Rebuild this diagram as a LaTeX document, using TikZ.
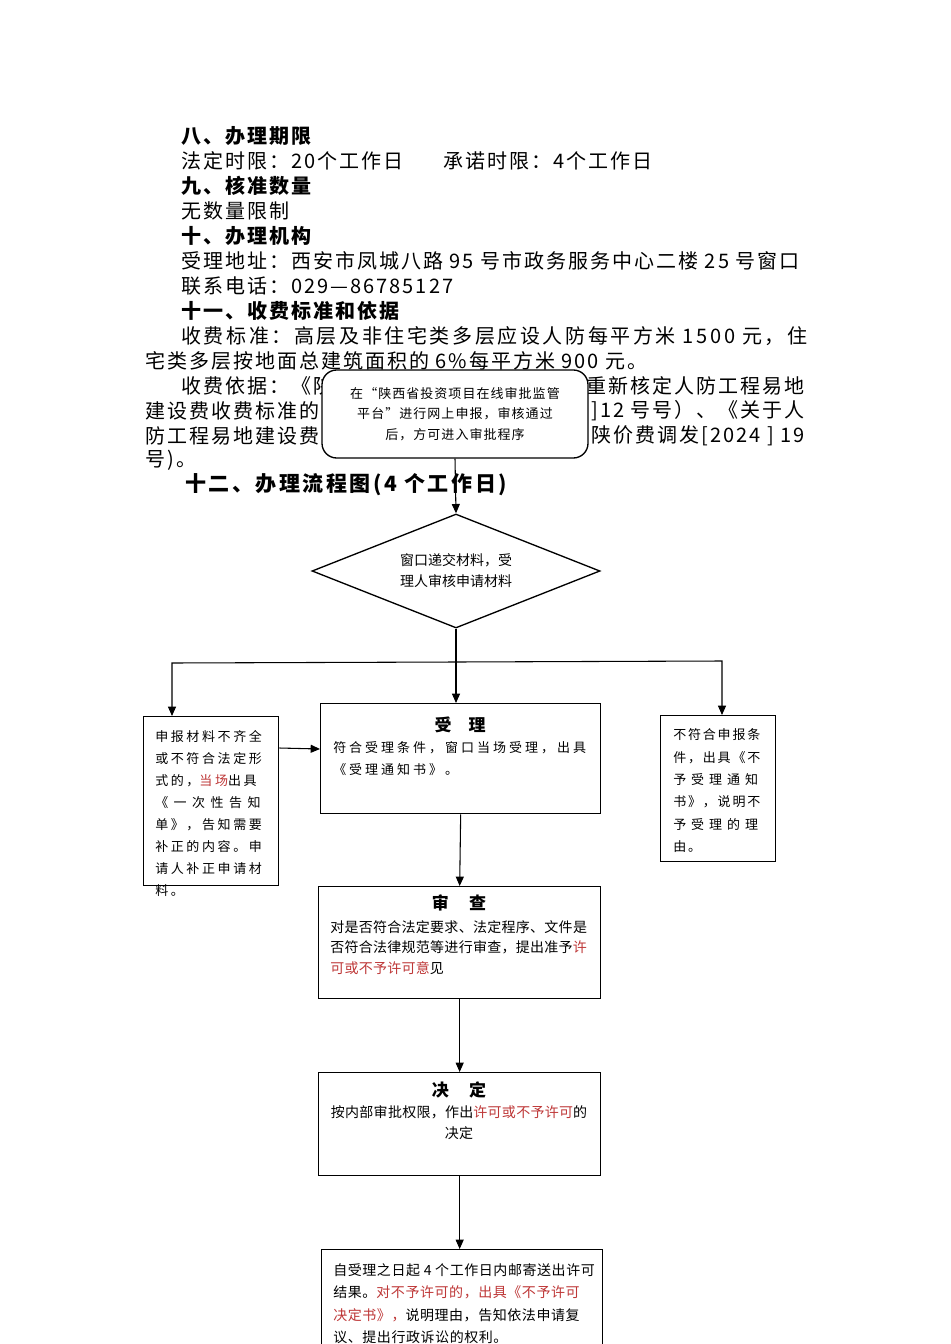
\documentclass[tikz,border=0pt]{standalone}
\usepackage{fontspec}
\setmainfont{Noto Sans CJK SC}
\usepackage{xcolor}
\usetikzlibrary{arrows.meta,shapes.geometric}
\definecolor{notered}{RGB}{190,55,55}

\begin{document}
\begin{tikzpicture}[x=0.75pt, y=-0.75pt,
  pagetext/.style={anchor=west, inner sep=0pt,
                   font=\fontsize{15}{18}\selectfont\addfontfeature{LetterSpace=10}},
  pagehead/.style={pagetext, font=\fontsize{15}{18}\selectfont\bfseries\addfontfeature{LetterSpace=10}},
  flowbox/.style={draw, line width=1pt, inner sep=0pt, anchor=north west},
  boxtitle/.style={inner sep=0pt, font=\fontsize{12.75}{15}\selectfont\bfseries},
  boxtext/.style={inner sep=0pt, anchor=north west, align=left},
  flowarrow/.style={-{Triangle[length=7pt,width=6pt]}, line width=0.8pt}
]
\useasboundingbox (0,0) rectangle (950,1344);
\clip (0,0) rectangle (950,1344);
\fill[white] (0,0) rectangle (950,1344);

% page text
\node[pagehead] (h8) at (181,136) {八、办理期限};
\node[pagetext] (limit) at (181,161) {法定时限：20个工作日};
\node[pagetext] (promise) at (443,161) {承诺时限：4个工作日};
\node[pagehead] (h9) at (181,186) {九、核准数量};
\node[pagetext] (count) at (181,211) {无数量限制};
\node[pagehead] (h10) at (181,236) {十、办理机构};
\node[pagetext] (addr) at (181,261) {受理地址：西安市凤城八路 95 号市政务服务中心二楼 25 号窗口};
\node[pagetext] (phone) at (181,286) {联系电话：029—86785127};
\node[pagehead] (h11) at (181,311) {十一、收费标准和依据};
\node[pagetext, font=\fontsize{15}{18}\selectfont\addfontfeature{LetterSpace=13}] (fee1) at (181,336) {收费标准：高层及非住宅类多层应设人防每平方米 1500 元，住};
\node[pagetext] (fee2) at (145,361) {宅类多层按地面总建筑面积的 6\%每平方米 900 元。};
\node[pagetext] (basis1) at (181,386) {收费依据：《陕};
\node[pagetext, anchor=east] (basis1r) at (805,386) {重新核定人防工程易地};
\node[pagetext] (basis2) at (145,411) {建设费收费标准的};
\node[pagetext, anchor=east] (basis2r) at (805,411) {]12 号号）、《关于人};
\node[pagetext] (basis3) at (145,436) {防工程易地建设费};
\node[pagetext, anchor=east] (basis3r) at (805,436) {陕价费调发[2024 ] 19};
\node[pagetext] (basis4) at (145,460) {号)。};
\node[pagehead, font=\fontsize{15.75}{18}\selectfont\bfseries\addfontfeature{LetterSpace=12}] (h12) at (185,485) {十二、办理流程图(4 个工作日)};

% online declaration
\node[draw, line width=1pt, rounded corners=11pt, fill=white, align=center, inner sep=0pt,
      minimum width=199.5pt, minimum height=66pt,
      font=\fontsize{9.75}{15.4}\selectfont\addfontfeature{LetterSpace=8}] (online) at (455,414)
  {在“陕西省投资项目在线审批监管\\平台”进行网上申报，审核通过\\后，方可进入审批程序};

% window check
\node[draw, diamond, shape aspect=2.5, line width=1pt, inner sep=0pt,
      minimum width=216pt, minimum height=85.5pt,
      align=center, font=\fontsize{10.5}{15.75}\selectfont] (window) at (456,571)
  {窗口递交材料，受\\理人审核申请材料};

% boxes
\node[flowbox, minimum width=101.25pt, minimum height=126.75pt] (incomplete) at (143,716) {};
\node[flowbox, minimum width=210pt, minimum height=82.5pt] (accept) at (320,703) {};
\node[flowbox, minimum width=86.25pt, minimum height=109.5pt] (refuse) at (660,715) {};
\node[flowbox, minimum width=211.5pt, minimum height=84pt] (review) at (318,886) {};
\node[flowbox, minimum width=211.5pt, minimum height=77.25pt] (decide) at (318,1072) {};
\node[flowbox, minimum width=210.75pt, minimum height=90pt] (result) at (321,1249) {};

% box texts
\node[boxtext, font=\fontsize{9.75}{16.5}\selectfont\addfontfeature{LetterSpace=20}] (incompletetext) at (155,730)
  {申报材料不齐全\\或不符合法定形\\式的，\textcolor{notered}{当场}出具\\{\addfontfeature{LetterSpace=42}《一次性告知}\\单》，告知需要\\补正的内容。申\\请人补正申请材\\料。};
\node[boxtitle] (accepttitle) at (460,725) {受\hspace{1em}理};
\node[boxtext, font=\fontsize{9.75}{16.5}\selectfont\addfontfeature{LetterSpace=23}] (accepttext) at (333,741.5)
  {符合受理条件，窗口当场受理，出具\\《受理通知书》。};
\node[boxtext, font=\fontsize{9.75}{16.8}\selectfont\addfontfeature{LetterSpace=14}] (refusetext) at (673,728.5)
  {不符合申报条\\件，出具《不\\{\addfontfeature{LetterSpace=38}予受理通知}\\书》，说明不\\{\addfontfeature{LetterSpace=38}予受理的理}\\由。};
\node[boxtitle] (reviewtitle) at (459,903) {审\hspace{1.2em}查};
\node[boxtext, font=\fontsize{10.5}{15.4}\selectfont\addfontfeature{LetterSpace=2}] (reviewtext) at (330,920)
  {对是否符合法定要求、法定程序、文件是\\否符合法律规范等进行审查，提出准予\textcolor{notered}{许}\\\textcolor{notered}{可或不予许可意}见};
\node[boxtitle] (decidetitle) at (459,1090) {决\hspace{1.2em}定};
\node[boxtext, anchor=north, align=center, font=\fontsize{10.5}{15.75}\selectfont\addfontfeature{LetterSpace=2}] (decidetext) at (459,1105)
  {按内部审批权限，作出\textcolor{notered}{许可或不予许可}的\\决定};
\node[boxtext, font=\fontsize{10.5}{16.9}\selectfont\addfontfeature{LetterSpace=4}] (resulttext) at (333,1263)
  {自受理之日起 4 个工作日内邮寄送出许可\\结果。\textcolor{notered}{对不予许可的，出具《不予许可}\\\textcolor{notered}{决定书》，}说明理由，告知依法申请复\\议、提出行政诉讼的权利。};

% connectors
\coordinate (split) at (456,662);
\coordinate (lturn) at (172,663);
\coordinate (rturn) at (722,661);
\draw[flowarrow] (online.south) -- (window.north);
\draw[line width=0.8pt] (window.south) -- (split);
\draw[flowarrow] (split) -- (split |- accept.north);
\draw[flowarrow] (split) -- (lturn) -- (lturn |- incomplete.north);
\draw[flowarrow] (split) -- (rturn) -- (rturn |- refuse.north);
\draw[flowarrow] (incomplete.east |- 0,748) -- (accept.west |- 0,749);
\draw[flowarrow] (accept.south) -- (review.north);
\draw[flowarrow] (review.south) -- (decide.north);
\draw[flowarrow] (decide.south) -- (decide.south |- result.north);
\end{tikzpicture}
\end{document}
